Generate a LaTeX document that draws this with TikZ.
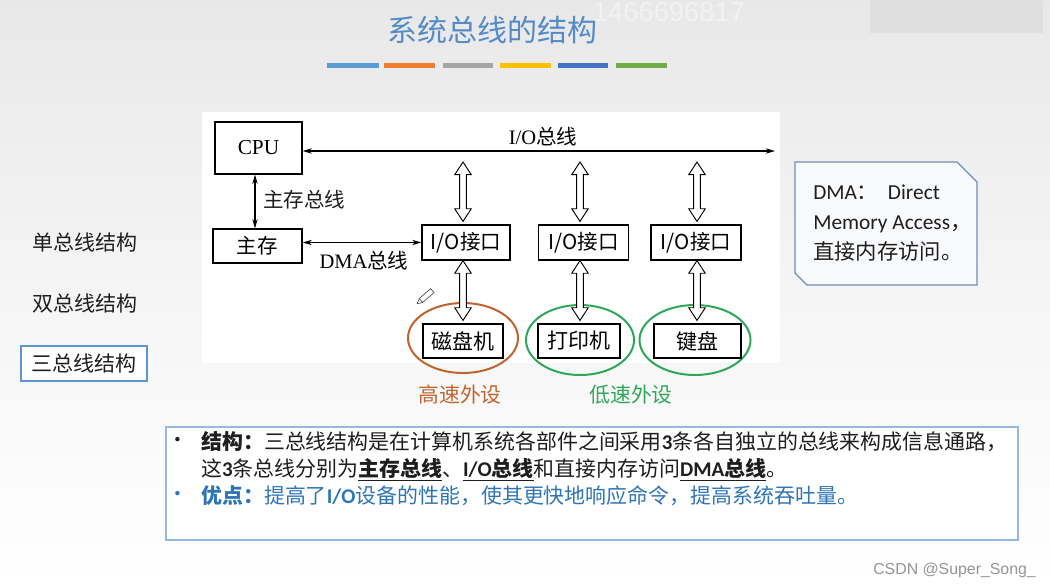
\documentclass[tikz,border=0pt]{standalone}
\usepackage{fontspec}
\setmainfont{Liberation Serif}
\newfontfamily\cjk{Noto Sans CJK SC}
\newfontfamily\cali{Carlito}
\newfontfamily\lsans{Liberation Sans}
\usetikzlibrary{shapes.geometric,arrows.meta,calc}
\definecolor{titleblue}{RGB}{84,139,198}
\definecolor{barA}{RGB}{91,155,213}
\definecolor{barB}{RGB}{237,125,49}
\definecolor{barC}{RGB}{165,165,165}
\definecolor{barD}{RGB}{255,192,0}
\definecolor{barE}{RGB}{68,114,196}
\definecolor{barF}{RGB}{112,173,71}
\definecolor{bgtop}{RGB}{232,232,232}
\definecolor{bgmid}{RGB}{245,245,245}
\definecolor{darktext}{RGB}{30,30,30}
\definecolor{hiorange}{RGB}{192,100,45}
\definecolor{logreen}{RGB}{46,168,88}
\definecolor{menublue}{RGB}{91,150,210}
\definecolor{calloutborder}{RGB}{112,142,180}
\definecolor{calloutfill}{RGB}{249,250,252}
\definecolor{panelborder}{RGB}{150,185,225}
\definecolor{advblue}{RGB}{46,117,182}
\definecolor{wmgray}{RGB}{150,150,150}
\newcommand\fsz[1]{\fontsize{#1}{#1}\selectfont}
\newcommand\hollowarrow[2]{%
  \filldraw[harrow] let \p1=#1, \p2=#2 in
   (\x1,\y1) -- (\x1+6.2pt,\y1-9.5pt) -- (\x1+2.5pt,\y1-9.5pt)
   -- (\x1+2.5pt,\y2+11.75pt) -- (\x1+6.2pt,\y2+11.75pt) -- (\x1,\y2+2.25pt)
   -- (\x1-6.2pt,\y2+11.75pt) -- (\x1-2.5pt,\y2+11.75pt)
   -- (\x1-2.5pt,\y1-9.5pt) -- (\x1-6.2pt,\y1-9.5pt) -- cycle;}
\begin{document}
\begin{tikzpicture}[x=0.75pt,y=-0.75pt,
  box/.style={draw=black, line width=0.9pt, fill=white, inner sep=0pt},
  harrow/.style={draw=black, line width=0.7pt, fill=white},
  thinarrow/.style={line width=0.8pt, {Stealth[length=7pt,width=4pt]}-{Stealth[length=7pt,width=4pt]}},
  menu/.style={font=\cjk\fsz{15.75pt}, text=darktext, inner sep=0pt},
  lbl/.style={font=\cjk\fsz{15.4pt}, text=darktext, inner sep=0pt}
]
\useasboundingbox (0,0) rectangle (1050,587);
% background
\shade[top color=bgtop, bottom color=white, middle color=bgmid] (0,0) rectangle (1050,587);
\fill[black!12.5] (870,0) rectangle (1043,33);
\node[font=\lsans\fsz{20.5pt}, text=white!95!black, inner sep=0pt] (wm) at (669,12) {1466696817};
% title
\node[font=\cjk\fsz{22.5pt}, text=titleblue, inner sep=0pt] (title) at (492,30) {系统总线的结构};
\fill[barA] (327,62.5) rectangle (379,68);
\fill[barB] (384,62.5) rectangle (435,68);
\fill[barC] (443,62.5) rectangle (493,68);
\fill[barD] (500,62.5) rectangle (551,68);
\fill[barE] (558,62.5) rectangle (608,68);
\fill[barF] (616,62.5) rectangle (667,68);
% left menu
\node[menu] (m1) at (84.5,243) {单总线结构};
\node[menu] (m2) at (84.5,304) {双总线结构};
\node[menu, draw=menublue, line width=1.5pt, fill=white, minimum width=94.5pt, minimum height=26.25pt] (m3) at (84,363.5) {三总线结构};
% diagram panel
\fill[white] (202,112) rectangle (780,363);
% ellipses
\node[ellipse, draw=hiorange, line width=1.5pt, minimum width=82.5pt, minimum height=52.5pt, inner sep=0pt] (e1) at (463,338) {};
\node[ellipse, draw=logreen, line width=1.5pt, minimum width=81pt, minimum height=52.5pt, inner sep=0pt] (e2) at (580,340) {};
\node[ellipse, draw=logreen, line width=1.5pt, minimum width=83.25pt, minimum height=52.5pt, inner sep=0pt] (e3) at (695,340) {};
% boxes
\node[box, minimum width=65.25pt, minimum height=39pt, font=\fsz{16pt}] (cpu) at (258.5,148) {CPU};
\node[box, minimum width=66.75pt, minimum height=25.5pt, font=\cjk\fsz{15.4pt}] (mem) at (257.5,246) {主存};
\node[box, minimum width=66pt, minimum height=26.25pt, font=\cjk\fsz{15.4pt}] (io1) at (466,242.5) {I/O接口};
\node[box, minimum width=68pt, minimum height=26.25pt, font=\cjk\fsz{15.4pt}] (io2) at (583.5,242.5) {I/O接口};
\node[box, minimum width=67.5pt, minimum height=26.25pt, font=\cjk\fsz{15.4pt}] (io3) at (696,242.5) {I/O接口};
\node[box, minimum width=60pt, minimum height=25.5pt, font=\cjk\fsz{15.75pt}] (dev1) at (463,341) {磁盘机};
\node[box, minimum width=61.5pt, minimum height=25.5pt, font=\cjk\fsz{15.75pt}] (dev2) at (579,341) {打印机};
\node[box, minimum width=65.25pt, minimum height=25.5pt, font=\cjk\fsz{15.75pt}] (dev3) at (697.5,341) {键盘};
% buses
\coordinate (busend) at (775,151);
\draw[thinarrow] (cpu.east |- busend) -- (busend);
\node[inner sep=0pt, font=\fsz{15.4pt}] (iobus) at (543,137) {I/O{\cjk 总线}};
\draw[thinarrow] (cpu.south -| 255,0) -- (mem.north -| 255,0);
\node[lbl, anchor=west] (mbus) at (263,200) {主存总线};
\draw[thinarrow] (io1.west -| mem.east) -- (io1.west);
\node[inner sep=0pt, font=\fsz{15.4pt}] (dmabus) at (364,261) {DMA{\cjk 总线}};
% hollow arrows
\coordinate (t1) at (463,162);
\coordinate (t2) at (580,162);
\coordinate (t3) at (697,162);
\hollowarrow{(t1)}{(t1 |- io1.north)}
\hollowarrow{(t2)}{(t2 |- io2.north)}
\hollowarrow{(t3)}{(t3 |- io3.north)}
\hollowarrow{(t1 |- io1.south)}{(t1 |- dev1.north)}
\hollowarrow{(t2 |- io2.south)}{(t2 |- dev2.north)}
\hollowarrow{(t3 |- io3.south)}{(t3 |- dev3.north)}
% pencil cursor
\begin{scope}[shift={(425.5,296.5)}, rotate=41, line width=0.5pt, draw=black!70]
  \draw (-6,-2.6) -- (9,-2.6) -- (9,2.6) -- (-6,2.6) -- (-11,0) -- cycle;
  \draw (-6,-2.6) -- (-6,2.6);
\end{scope}
% speed labels
\node[font=\cjk\fsz{15.6pt}, text=hiorange, inner sep=0pt] (hi) at (460,395) {高速外设};
\node[font=\cjk\fsz{15.6pt}, text=logreen, inner sep=0pt] (lo) at (631,395) {低速外设};
% DMA callout
\filldraw[draw=calloutborder, fill=calloutfill, line width=1pt]
  (795,162) -- (957,162) -- (977,182) -- (977,285) -- (807,285) -- (795,273) -- cycle;
\node[anchor=north west, align=left, inner sep=0pt, text=darktext,
      font=\cali\fontsize{16pt}{22.2pt}\selectfont] (callout) at (813,185)
  {DMA{\cjk ：}\ \ Direct\\Memory Access{\cjk ，}\\{\cjk 直接内存访问。}};
% bottom panel
\filldraw[draw=panelborder, fill=white, line width=0.9pt] (166,427) rectangle (1018,540);
\node[font=\cjk\fsz{15.6pt}, text=darktext, inner sep=0pt] (b1) at (178,442) {•};
\node[anchor=west, font=\cjk\fsz{15.7pt}, text=darktext, inner sep=0pt] (l1) at (201,442)
  {{\bfseries 结构：}三总线结构是在计算机系统各部件之间采用{\cali\bfseries 3}条各自独立的总线来构成信息通路，};
\node[anchor=west, font=\cjk\fsz{15.7pt}, text=darktext, inner sep=0pt] (l2) at (201,470)
  {这{\cali\bfseries 3}条总线分别为\underline{\bfseries 主存总线}、\underline{{\cali\bfseries I/O}\bfseries 总线}和直接内存访问\underline{{\cali\bfseries DMA}\bfseries 总线}。};
\node[font=\cjk\fsz{15.6pt}, text=advblue, inner sep=0pt] (b2) at (178,496) {•};
\node[anchor=west, font=\cjk\fsz{15.7pt}, text=advblue, inner sep=0pt] (l3) at (201,496)
  {{\bfseries 优点：}提高了{\cali\bfseries I/O}设备的性能，使其更快地响应命令，提高系统吞吐量。};
% footer
\node[font=\lsans\fsz{11.9pt}, text=wmgray, inner sep=0pt, anchor=west] (csdn) at (873,570) {CSDN @Super\_Song\_};
\end{tikzpicture}
\end{document}
